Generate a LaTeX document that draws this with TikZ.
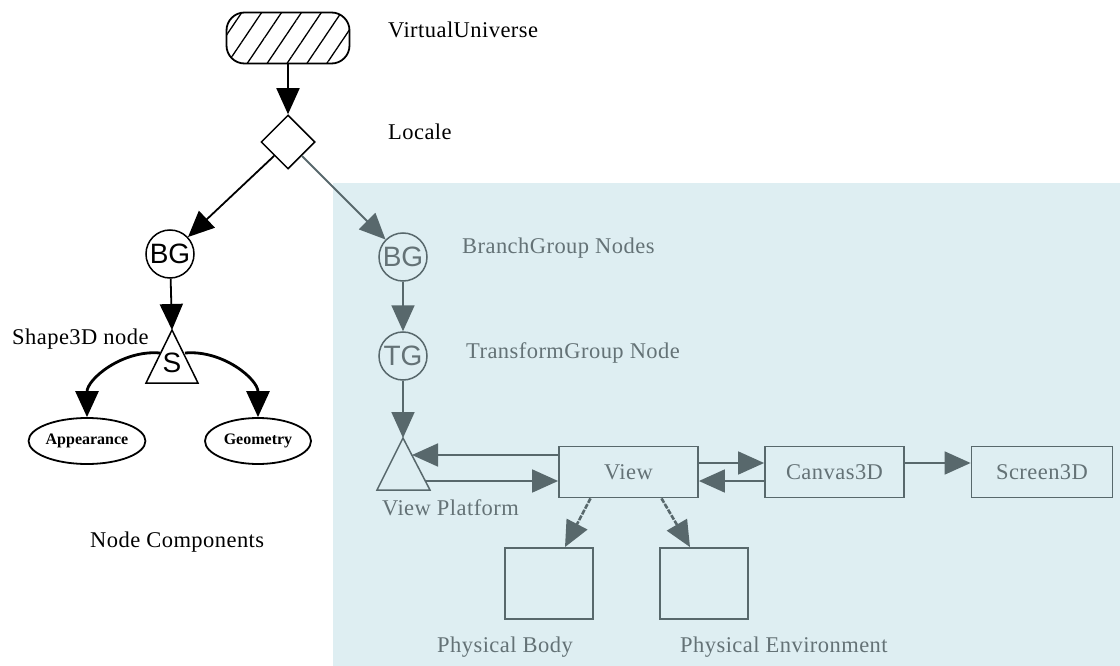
\documentclass[tikz,border=0pt]{standalone}
\usepackage{fontspec}
\setmainfont{Liberation Serif}[LetterSpace=2]
\newfontfamily\glyphsans{Liberation Sans}
\usetikzlibrary{arrows.meta,shapes.geometric,patterns.meta}

\definecolor{panel}{RGB}{222,238,242}
\definecolor{slate}{RGB}{88,104,108}
\definecolor{slatetext}{RGB}{100,114,118}

\tikzset{
  lbl/.style={font=\fontsize{22.5}{26}\selectfont, inner sep=0pt, anchor=base west},
  tip/.style={-{Triangle[length=26pt,width=23pt]}},
  edge/.style={tip, line width=1.8pt},
  curved/.style={tip, line width=2.8pt},
  gedge/.style={edge, draw=slate, fill=slate},
  circ/.style={circle, draw, line width=1.5pt, minimum size=48pt, inner sep=0pt,
               font=\glyphsans\fontsize{28}{28}\selectfont},
  ell/.style={ellipse, draw, line width=1.8pt, minimum height=46pt, inner sep=0pt,
              font=\fontsize{16}{18}\selectfont\bfseries\addfontfeatures{LetterSpace=0}},
  box/.style={rectangle, draw=slate, line width=1.8pt, inner sep=0pt, text=slatetext,
              font=\fontsize{22.5}{26}\selectfont},
  tri/.style={line width=1.5pt, line join=miter},
  roughdash/.style={dash pattern=on 5pt off 1.5pt, line width=2.6pt},
}

\begin{document}
\begin{tikzpicture}[x=1pt,y=-1pt]
\useasboundingbox (0,0) rectangle (1120,666);
\fill[panel] (333,183) rectangle (1120,666);

% scene graph root and locale
\node[draw, line width=1.8pt, rounded corners=18pt, minimum width=123pt, minimum height=51pt,
      pattern={Lines[angle=56,distance=16.5pt,line width=1.3pt]}, pattern color=black]
      (VU) at (288,38) {};
\node[diamond, draw, line width=1.5pt, minimum width=54pt, minimum height=54pt, inner sep=0pt]
      (Loc) at (288,142) {};
\draw[edge] (VU) -- (Loc);
\node[lbl] (vuLbl) at (388,38) {VirtualUniverse};
\node[lbl] (locLbl) at (388,140) {Locale};

% content branch
\node[circ] (BG1) at (170,254) {BG};
\draw[edge] (Loc.south west) -- (BG1);
\coordinate (Sapex) at (172,330);
\draw[tri] (Sapex) -- (146,383) -- (198,383) -- cycle;
\node[font=\glyphsans\fontsize{28}{28}\selectfont, inner sep=0pt] (S) at (172,363) {S};
\draw[edge] (BG1) -- (Sapex);
\node[lbl] (shapeLbl) at (12,344) {Shape3D node};

\node[ell, minimum width=104pt] (App) at (87,441) {Appearance};
\node[ell, minimum width=106pt] (Geo) at (258,441) {Geometry};
\coordinate (SL) at (160,353);
\coordinate (SR) at (185,353);
\draw[curved] (SL) to[out=175,in=90] (App.north);
\draw[curved] (SR) to[out=5,in=90] (Geo.north);
\node[lbl] (ncLbl) at (90,547) {Node Components};

% view branch
\node[circ, draw=slate, text=slatetext] (BG2) at (403,257) {BG};
\draw[gedge] (Loc.south east) -- (BG2);
\node[lbl, text=slatetext] (bgLbl) at (462,253) {BranchGroup Nodes};
\node[circ, draw=slate, text=slatetext] (TG) at (403,356) {TG};
\draw[gedge] (BG2) -- (TG);
\node[lbl, text=slatetext] (tgLbl) at (466,358) {TransformGroup Node};

\coordinate (VPapex) at (403,438);
\draw[tri, draw=slate] (VPapex) -- (377,490) -- (430,490) -- cycle;
\draw[gedge] (TG) -- (VPapex);
\node[lbl, text=slatetext] (vpLbl) at (382,515) {View Platform};
\coordinate (vpU) at (412,455);
\coordinate (vpL) at (425,481);

\node[box, minimum width=139pt, minimum height=51pt] (View) at (628.5,472) {View};
\node[box, minimum width=139pt, minimum height=51pt] (Canvas) at (834.5,472) {Canvas3D};
\node[box, minimum width=141pt, minimum height=51pt] (Screen) at (1042,472) {Screen3D};

\draw[gedge] ([yshift=17pt]View.west) -- (vpU);
\draw[gedge] (vpL) -- ([yshift=-9pt]View.west);
\draw[gedge] ([yshift=9pt]View.east) -- ([yshift=9pt]Canvas.west);
\draw[gedge] ([yshift=-9pt]Canvas.west) -- ([yshift=-9pt]View.east);
\draw[gedge] ([yshift=9pt]Canvas.east) -- ([yshift=9pt]Screen.west);

\node[box, minimum width=88pt, minimum height=71pt] (PB) at (549,583.5) {};
\node[box, minimum width=88pt, minimum height=71pt] (PE) at (704,583.5) {};
\draw[gedge, roughdash] ([xshift=-38pt]View.south) -- ([xshift=16pt]PB.north);
\draw[gedge, roughdash] ([xshift=33pt]View.south) -- ([xshift=-14pt]PE.north);
\node[lbl, text=slatetext] (pbLbl) at (437,652) {Physical Body};
\node[lbl, text=slatetext] (peLbl) at (680,652) {Physical Environment};
\end{tikzpicture}
\end{document}
